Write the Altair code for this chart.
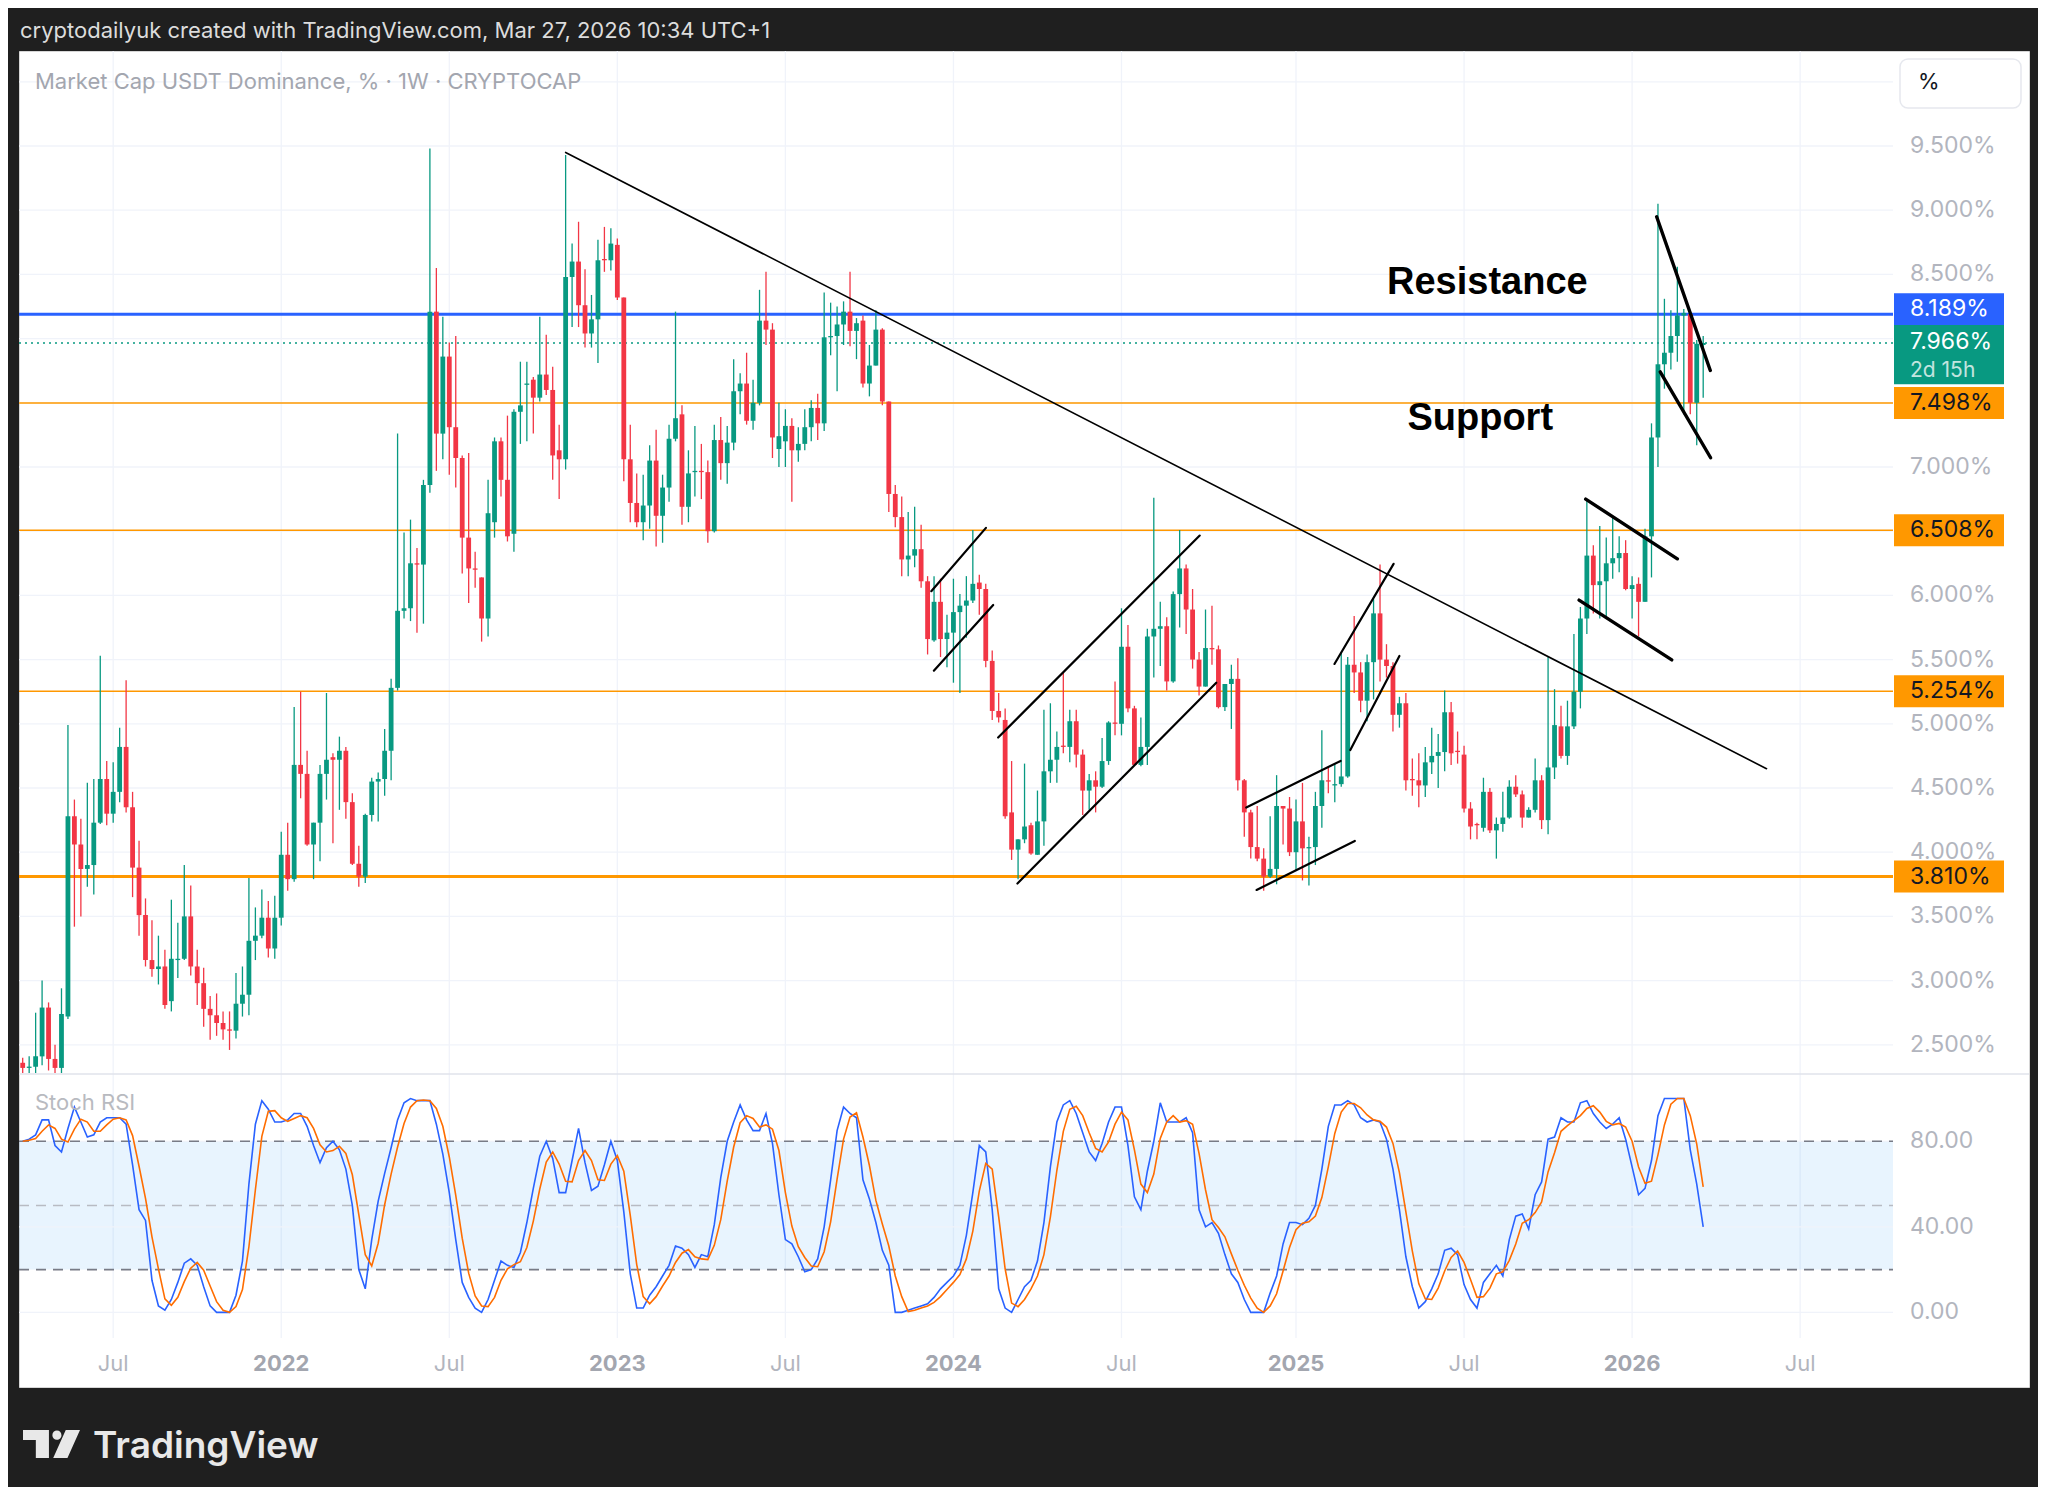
import altair as alt
import pandas as pd

# ---------------------------------------------------------------- data
FIRST_WEEK = "2021-03-29"   # weekly candles, Monday open

open_ = [
    2.36, 2.32, 2.33, 2.41, 2.79, 2.39, 2.32, 2.72, 4.28, 4.06,
    3.87, 3.90, 4.23, 4.57, 4.30, 4.47, 4.82, 4.35, 3.88, 3.51,
    3.16, 3.09, 3.11, 2.84, 3.16, 3.17, 3.50, 3.11, 2.98, 2.78,
    2.73, 2.67, 2.62, 2.61, 2.82, 2.89, 3.31, 3.35, 3.49, 3.25,
    3.49, 3.98, 3.79, 4.68, 4.61, 4.06, 4.23, 4.61, 4.74, 4.72,
    4.79, 4.39, 3.91, 3.81, 4.29, 4.55, 4.57, 4.79, 5.28, 5.88,
    5.90, 6.25, 6.24, 6.86, 8.21, 7.26, 7.86, 7.31, 7.07, 6.45,
    6.21, 6.14, 5.82, 6.57, 7.20, 6.90, 6.48, 7.43, 7.64, 7.68,
    7.54, 7.72, 7.60, 7.13, 7.06, 8.48, 8.60, 8.26, 8.04, 8.15,
    8.62, 8.61, 8.73, 8.32, 7.06, 6.72, 6.57, 6.70, 7.05, 6.62,
    6.84, 7.22, 7.41, 6.69, 6.96, 6.97, 6.96, 6.50, 7.21, 7.03,
    7.19, 7.59, 7.65, 7.36, 7.50, 8.14, 8.07, 7.14, 7.20, 7.32,
    7.13, 7.18, 7.31, 7.46, 7.34, 8.01, 8.02, 8.11, 8.21, 8.06,
    8.14, 7.65, 7.79, 8.07, 7.51, 6.79, 6.61, 6.28, 6.31, 6.36,
    6.11, 5.65, 5.95, 5.66, 5.71, 5.87, 5.92, 5.96, 6.10, 6.05,
    5.49, 5.10, 5.03, 4.31, 4.02, 4.10, 4.21, 3.98, 4.24, 4.63,
    4.72, 4.83, 4.82, 5.02, 4.76, 4.48, 4.56, 4.51, 4.71, 5.01,
    5.00, 5.60, 5.12, 4.68, 4.82, 5.68, 5.74, 5.76, 5.33, 6.01,
    6.21, 5.89, 5.50, 5.29, 5.59, 5.58, 5.13, 5.31, 5.35, 4.56,
    4.31, 4.04, 3.95, 3.81, 3.87, 4.36, 4.34, 4.00, 4.24, 4.03,
    4.04, 4.36, 4.56, 4.52, 4.53, 4.59, 5.46, 5.40, 5.18, 5.48,
    5.86, 5.50, 5.45, 5.07, 5.16, 4.57, 4.56, 4.52, 4.70, 4.75,
    4.78, 5.09, 4.79, 4.76, 4.34, 4.22, 4.19, 4.47, 4.17, 4.22,
    4.27, 4.51, 4.45, 4.27, 4.33, 4.56, 4.25, 4.66, 4.98, 4.75,
    4.98, 5.25, 5.82, 6.31, 6.08, 6.11, 6.25, 6.29, 6.33, 6.05,
    6.09, 5.95, 6.46, 7.23, 7.80, 7.89, 8.02, 8.18, 8.19, 7.50,
    7.95,
]
high = [
    2.40, 2.41, 2.75, 3.00, 2.83, 2.50, 2.94, 4.99, 4.41, 4.26,
    4.54, 4.57, 5.53, 4.71, 4.70, 4.97, 5.34, 4.47, 4.09, 3.64,
    3.47, 3.35, 3.24, 3.63, 3.45, 3.90, 3.74, 3.24, 3.10, 2.88,
    2.90, 2.76, 2.76, 3.06, 3.11, 3.80, 3.57, 3.71, 3.62, 3.66,
    4.16, 4.23, 5.13, 5.25, 4.79, 4.23, 4.68, 5.24, 4.77, 4.90,
    4.82, 4.46, 4.05, 4.30, 4.58, 4.62, 4.96, 5.35, 7.26, 6.49,
    6.59, 6.37, 6.90, 9.48, 8.55, 8.17, 7.97, 8.02, 7.09, 7.11,
    6.34, 6.14, 6.90, 7.23, 7.23, 7.40, 7.45, 7.82, 7.82, 7.70,
    8.17, 8.03, 7.78, 7.33, 9.43, 8.74, 8.91, 8.54, 8.34, 8.77,
    8.87, 8.86, 8.78, 8.32, 7.33, 6.95, 6.94, 7.17, 7.29, 6.94,
    7.33, 8.21, 7.48, 7.13, 7.32, 7.18, 7.05, 7.33, 7.39, 7.32,
    7.84, 7.73, 7.89, 7.68, 8.38, 8.52, 8.12, 7.50, 7.45, 7.38,
    7.31, 7.45, 7.52, 7.57, 8.36, 8.28, 8.25, 8.29, 8.52, 8.16,
    8.18, 7.95, 8.22, 8.08, 7.51, 6.86, 6.77, 6.65, 6.69, 6.55,
    6.15, 6.15, 6.13, 5.85, 6.13, 6.01, 6.15, 6.51, 6.16, 6.09,
    5.57, 5.24, 5.12, 4.71, 4.10, 4.69, 4.23, 4.48, 5.11, 5.16,
    4.94, 5.40, 5.11, 5.11, 4.80, 4.61, 4.63, 4.89, 5.02, 5.33,
    5.90, 5.77, 5.14, 5.05, 5.74, 6.76, 5.95, 5.83, 6.03, 6.51,
    6.24, 6.05, 5.56, 5.89, 5.92, 5.61, 5.31, 5.46, 5.51, 4.57,
    4.33, 4.36, 4.03, 4.28, 4.60, 4.36, 4.43, 4.41, 4.54, 4.12,
    4.47, 4.95, 4.67, 4.69, 5.56, 5.52, 5.84, 5.48, 5.54, 5.97,
    6.24, 5.62, 5.48, 5.21, 5.24, 4.73, 4.77, 4.82, 4.97, 4.92,
    5.26, 5.17, 4.94, 4.83, 4.39, 4.23, 4.58, 4.50, 4.27, 4.47,
    4.56, 4.60, 4.48, 4.35, 4.73, 4.60, 5.52, 5.27, 5.14, 5.18,
    5.70, 5.91, 6.75, 6.39, 6.54, 6.45, 6.61, 6.46, 6.43, 6.15,
    6.14, 6.52, 7.34, 9.05, 8.31, 8.22, 8.56, 8.23, 8.19, 7.99,
    8.02,
]
low = [
    2.20, 2.20, 2.20, 2.34, 2.30, 2.20, 2.20, 2.70, 3.42, 3.50,
    3.73, 3.67, 4.22, 4.21, 4.23, 4.39, 4.31, 3.65, 3.35, 3.11,
    3.03, 2.97, 2.78, 2.76, 3.02, 3.16, 3.04, 2.81, 2.64, 2.54,
    2.57, 2.54, 2.46, 2.55, 2.72, 2.73, 3.16, 3.33, 3.18, 3.17,
    3.43, 3.70, 3.77, 4.42, 4.05, 3.79, 3.93, 4.41, 4.07, 4.33,
    4.26, 3.90, 3.73, 3.76, 4.24, 4.24, 4.44, 4.56, 5.26, 5.82,
    5.80, 5.71, 5.78, 6.80, 6.97, 7.06, 6.94, 6.84, 6.17, 5.94,
    6.06, 5.64, 5.68, 6.45, 6.77, 6.42, 6.34, 7.18, 7.20, 7.26,
    7.51, 7.56, 6.90, 6.75, 6.98, 8.09, 8.09, 7.93, 7.93, 7.81,
    8.52, 8.53, 8.30, 6.89, 6.57, 6.53, 6.43, 6.52, 6.38, 6.41,
    6.73, 7.20, 6.55, 6.57, 6.77, 6.75, 6.41, 6.49, 6.90, 6.87,
    7.13, 7.41, 7.33, 7.29, 7.48, 7.95, 7.07, 7.00, 7.00, 6.73,
    7.04, 7.13, 7.20, 7.21, 7.28, 7.87, 7.59, 7.95, 7.94, 7.84,
    7.62, 7.55, 7.79, 7.48, 6.65, 6.53, 6.15, 6.15, 6.22, 6.06,
    5.54, 5.64, 5.52, 5.44, 5.32, 5.24, 5.67, 5.94, 5.85, 5.44,
    5.03, 5.01, 4.26, 3.94, 3.79, 4.07, 3.98, 3.98, 4.05, 4.54,
    4.54, 4.77, 4.70, 4.66, 4.29, 4.33, 4.31, 4.50, 4.68, 4.91,
    4.91, 5.09, 4.68, 4.67, 4.68, 5.36, 5.45, 5.26, 5.32, 5.75,
    5.70, 5.43, 5.22, 5.29, 5.46, 5.12, 5.10, 4.96, 4.48, 4.12,
    3.95, 3.93, 3.70, 3.80, 3.75, 4.06, 3.97, 3.86, 3.78, 3.74,
    3.90, 4.19, 4.46, 4.39, 4.51, 4.58, 5.24, 5.09, 5.02, 5.19,
    5.33, 5.36, 4.94, 4.97, 4.48, 4.44, 4.35, 4.43, 4.61, 4.50,
    4.63, 4.68, 4.69, 4.31, 4.10, 4.10, 4.16, 4.15, 3.95, 4.16,
    4.26, 4.43, 4.19, 4.27, 4.31, 4.18, 4.14, 4.57, 4.73, 4.68,
    4.96, 5.12, 5.70, 5.86, 5.82, 5.82, 6.13, 6.18, 6.04, 5.82,
    5.68, 5.95, 6.14, 7.00, 7.61, 7.76, 7.82, 7.41, 7.41, 7.17,
    7.54,
]
close = [
    2.32, 2.33, 2.41, 2.79, 2.39, 2.32, 2.74, 4.28, 4.06, 3.87,
    3.90, 4.23, 4.57, 4.30, 4.47, 4.82, 4.35, 3.88, 3.51, 3.16,
    3.09, 3.11, 2.81, 3.17, 3.17, 3.50, 3.11, 2.98, 2.78, 2.73,
    2.67, 2.62, 2.61, 2.82, 2.89, 3.31, 3.35, 3.49, 3.25, 3.49,
    3.98, 3.79, 4.68, 4.61, 4.06, 4.23, 4.61, 4.72, 4.72, 4.79,
    4.39, 3.91, 3.81, 4.29, 4.55, 4.57, 4.79, 5.28, 5.88, 5.90,
    6.25, 6.24, 6.86, 8.21, 7.26, 7.86, 7.31, 7.07, 6.45, 6.21,
    6.20, 5.82, 6.64, 7.20, 6.90, 6.46, 7.43, 7.48, 7.65, 7.54,
    7.72, 7.60, 7.09, 7.06, 8.48, 8.60, 8.26, 8.04, 8.15, 8.61,
    8.61, 8.74, 8.32, 7.06, 6.72, 6.57, 6.70, 7.05, 6.62, 6.84,
    7.22, 7.38, 6.69, 6.95, 6.97, 6.96, 6.50, 7.21, 7.03, 7.19,
    7.59, 7.65, 7.36, 7.50, 8.14, 8.07, 7.23, 7.24, 7.32, 7.13,
    7.18, 7.31, 7.46, 7.34, 8.01, 8.02, 8.11, 8.21, 8.06, 8.12,
    7.65, 7.79, 8.07, 7.51, 6.79, 6.61, 6.28, 6.31, 6.36, 6.11,
    5.66, 5.95, 5.66, 5.71, 5.87, 5.92, 5.96, 6.09, 6.05, 5.49,
    5.10, 5.05, 4.28, 4.02, 4.10, 4.20, 3.99, 4.24, 4.63, 4.72,
    4.82, 4.82, 5.02, 4.76, 4.48, 4.56, 4.51, 4.71, 5.01, 5.00,
    5.60, 5.12, 4.68, 4.82, 5.68, 5.74, 5.76, 5.33, 6.01, 6.21,
    5.89, 5.50, 5.29, 5.59, 5.58, 5.13, 5.31, 5.35, 4.56, 4.31,
    4.04, 3.95, 3.81, 3.87, 4.36, 4.34, 4.00, 4.24, 4.03, 4.04,
    4.36, 4.56, 4.55, 4.53, 4.59, 5.46, 5.40, 5.18, 5.48, 5.86,
    5.50, 5.45, 5.07, 5.16, 4.56, 4.56, 4.52, 4.70, 4.75, 4.78,
    5.09, 4.77, 4.78, 4.34, 4.20, 4.21, 4.47, 4.17, 4.22, 4.27,
    4.51, 4.45, 4.27, 4.33, 4.56, 4.25, 4.66, 4.99, 4.75, 4.98,
    5.25, 5.82, 6.31, 6.08, 6.11, 6.25, 6.29, 6.33, 6.05, 6.08,
    5.95, 6.46, 7.23, 7.80, 7.89, 8.02, 8.18, 8.20, 7.50, 7.96,
    7.966,
]
stoch_k = [
    80, 81, 83, 90, 90, 78, 75, 86, 96, 89,
    82, 83, 89, 91, 91, 91, 88, 69, 48, 43,
    15, 3, 1, 6, 14, 23, 25, 22, 12, 3,
    0, 0, 0, 8, 24, 60, 88, 99, 95, 89,
    89, 90, 93, 93, 87, 78, 70, 77, 80, 76,
    67, 50, 20, 11, 34, 52, 65, 77, 90, 98,
    100, 99, 99, 99, 88, 74, 56, 34, 14, 7,
    2, 0, 6, 15, 24, 22, 21, 28, 42, 58,
    73, 80, 72, 56, 56, 71, 86, 70, 57, 59,
    69, 80, 71, 47, 18, 2, 2, 8, 12, 17,
    22, 31, 30, 27, 21, 27, 26, 41, 63, 80,
    89, 97, 90, 85, 85, 93, 79, 55, 34, 32,
    26, 19, 20, 25, 40, 62, 85, 96, 93, 91,
    62, 53, 42, 29, 22, 0, 0, 1, 2, 3,
    4, 7, 11, 14, 17, 22, 36, 56, 78, 75,
    48, 11, 2, 0, 6, 12, 15, 24, 42, 68,
    89, 97, 99, 93, 84, 75, 71, 79, 89, 96,
    96, 78, 54, 48, 66, 80, 98, 89, 89, 89,
    91, 84, 48, 40, 42, 37, 27, 18, 14, 6,
    0, 0, 0, 9, 17, 32, 42, 42, 41, 44,
    50, 67, 87, 97, 97, 99, 97, 91, 89, 90,
    89, 81, 67, 48, 26, 12, 2, 5, 11, 18,
    29, 30, 27, 13, 6, 2, 14, 18, 22, 17,
    34, 45, 46, 39, 55, 61, 81, 82, 91, 89,
    89, 98, 99, 93, 89, 86, 88, 91, 81, 68,
    55, 58, 71, 92, 100, 100, 100, 100, 76, 60,
    40,
]

price_ticks = [2.5, 3.0, 3.5, 4.0, 4.5, 5.0, 5.5, 6.0, 6.5, 7.0, 7.5, 8.0, 8.5, 9.0, 9.5]
price_grid = price_ticks + [10.0]
stoch_ticks = [0, 40, 80]
stoch_band = [20, 80]
stoch_mid = [50]
time_ticks = ["2021-07-05", "2022-01-03", "2022-07-04", "2023-01-02", "2023-07-03", "2024-01-01",
              "2024-07-01", "2025-01-06", "2025-07-07", "2026-01-05", "2026-07-06"]
time_labels = ["Jul", "2022", "Jul", "2023", "Jul", "2024", "Jul", "2025", "Jul", "2026", "Jul"]

support_levels = [7.498, 6.508, 5.254]
base_level = [3.810]
resistance_level = [8.189]
last_price = [7.966]
countdown = "2d 15h"

# drawings: (weeks after first candle, price)
trend_w1, trend_p1, trend_w2, trend_p2 = [84.0], [9.45], [269.8], [4.65]
chan_w1 = [140.57, 140.97, 150.92, 153.9, 189.3, 190.9, 202.95, 205.4]
chan_p1 = [6.033, 5.414, 4.893, 3.756, 4.348, 3.706, 5.466, 4.796]
chan_w2 = [149.03, 150.15, 182.1, 184.66, 203.9, 206.1, 212.1, 213.0]
chan_p2 = [6.526, 5.925, 6.466, 5.32, 4.711, 4.088, 6.246, 5.528]
flag_w1 = [241.82, 240.79, 252.8, 253.35]
flag_p1 = [6.75, 5.963, 8.949, 7.741]
flag_w2 = [256.0, 255.14, 261.1, 261.15]
flag_p2 = [6.285, 5.498, 7.752, 7.072]
note_text = ["Resistance", "Support"]
note_w = [226.6, 225.5]
note_p = [8.433, 7.374]

header = "cryptodailyuk created with TradingView.com, Mar 27, 2026 10:34 UTC+1"
symbol_title = "Market Cap USDT Dominance, % · 1W · CRYPTOCAP"

# ---------------------------------------------------------------- style / layout
FONT = "Inter"
GREEN, RED, BLUE, ORANGE, DLINE = "#089981", "#f23645", "#2962ff", "#ff9800", "#ff6d00"
AXIS_TXT, GRID, INK = "#b2b5be", "#f0f3fa", "#131722"
PLOT_W, PLOT_H = 2010, 1336
PANE_R = 1874
PRICE_BOTTOM, STOCH_TOP, STOCH_BOTTOM = 1022, 1024, 1287
LABEL_X, TAG_CX = 1891, 1930
LABEL_SIZE = 23
TAG1 = "M-1,-0.291L1,-0.291L1,0.291L-1,0.291Z"
TAG2 = "M-1,-0.327L1,-0.327L1,0.75L-1,0.75Z"
LOGO = ("M-1,-0.49H-0.09V0.49H-0.55V-0.14H-1Z "
        "M0.03,-0.31A0.16,0.16 0 1,0 0.35,-0.31A0.16,0.16 0 1,0 0.03,-0.31Z "
        "M0.5,-0.49H1L0.56,0.49H0.06Z")

X_SCALE = alt.Scale(domain=[alt.DateTime(year=2021, month=3, date=29),
                            alt.DateTime(year=2026, month=3, date=23)],
                    range=[-1.3, 1689.2], nice=False)
P_SCALE = alt.Scale(domain=[2.2804, 10.2399], range=[PRICE_BOTTOM, 0], nice=False, zero=False, clamp=True)
S_SCALE = alt.Scale(domain=[-12, 111], range=[STOCH_BOTTOM, STOCH_TOP], nice=False, zero=False)


def week(w):
    return (pd.Timestamp(FIRST_WEEK) + pd.Timedelta(days=7 * w)).round("min")


def XT(f):
    return alt.X(f, type="temporal", scale=X_SCALE, axis=None)


def PY(f):
    return alt.Y(f, type="quantitative", scale=P_SCALE, axis=None)


def SY(f):
    return alt.Y(f, type="quantitative", scale=S_SCALE, axis=None)


dates = pd.date_range(FIRST_WEEK, periods=len(close), freq="7D")
candles = pd.DataFrame({"date": dates, "open": open_, "high": high, "low": low, "close": close})
stoch = pd.DataFrame({"date": dates, "k": stoch_k})
ONE = pd.DataFrame({"n": [0]})


def segs(w1, p1, w2, p2):
    return pd.DataFrame({"t1": [week(w) for w in w1], "p1": p1, "t2": [week(w) for w in w2], "p2": p2})


def hlines(vals, scale_y, **kw):
    return alt.Chart(pd.DataFrame({"v": vals})).mark_rule(**kw).encode(
        y=scale_y("v"), x=alt.value(0), x2=alt.value(PANE_R))


layers = []

# grid
layers.append(hlines(price_grid, PY, color=GRID, strokeWidth=1.3))
layers.append(alt.Chart(pd.DataFrame({"d": pd.to_datetime(time_ticks)})).mark_rule(
    color=GRID, strokeWidth=1.3).encode(x=XT("d"), y=alt.value(0), y2=alt.value(STOCH_BOTTOM)))

# stoch rsi pane
layers.append(alt.Chart(pd.DataFrame({"lo": [stoch_band[0]], "hi": [stoch_band[1]]})).mark_rect(
    color="#2196f3", opacity=0.1).encode(y=SY("lo"), y2="hi:Q", x=alt.value(0), x2=alt.value(PANE_R)))
layers.append(hlines(stoch_ticks, SY, color=GRID, strokeWidth=1.3))
layers.append(hlines(stoch_band, SY, color="#787b86", strokeWidth=1.6, strokeDash=[10, 7]))
layers.append(hlines(stoch_mid, SY, color="#b8bbc3", strokeWidth=1.6, strokeDash=[10, 7]))
layers.append(alt.Chart(stoch).mark_line(color=BLUE, strokeWidth=1.6).encode(x=XT("date"), y=SY("k")))
layers.append(alt.Chart(stoch).transform_window(
    d="mean(k)", frame=[-2, 0], sort=[alt.SortField("date")]).mark_line(
    color=DLINE, strokeWidth=1.6).encode(x=XT("date"), y=SY("d")))

# horizontal levels
layers.append(hlines(support_levels, PY, color=ORANGE, strokeWidth=1.6))
layers.append(hlines(base_level, PY, color=ORANGE, strokeWidth=3))
layers.append(hlines(resistance_level, PY, color=BLUE, strokeWidth=3))
layers.append(hlines(last_price, PY, color=GREEN, strokeWidth=1.5, strokeDash=[2, 4]))

# candles
up = alt.condition("datum.close >= datum.open", alt.value(GREEN), alt.value(RED))
cbase = alt.Chart(candles).encode(x=XT("date"))
layers.append(cbase.mark_rule(strokeWidth=1.3, clip=True).encode(y=PY("low"), y2="high:Q", color=up))
layers.append(cbase.mark_bar(width=4.8, clip=True).encode(y=PY("open"), y2="close:Q", color=up))

# drawings
for df, w in [(segs(trend_w1, trend_p1, trend_w2, trend_p2), 1.6),
              (segs(chan_w1, chan_p1, chan_w2, chan_p2), 2.2),
              (segs(flag_w1, flag_p1, flag_w2, flag_p2), 3.4)]:
    layers.append(alt.Chart(df).mark_rule(color="#000000", strokeWidth=w, strokeCap="round").encode(
        x=XT("t1"), x2="t2:T", y=PY("p1"), y2="p2:Q"))

notes = pd.DataFrame({"t": [week(w) for w in note_w], "p": note_p, "txt": note_text})
layers.append(alt.Chart(notes).mark_text(font="Liberation Sans", fontWeight="bold", fontSize=38,
                                         color="#000000", baseline="middle").encode(
    x=XT("t"), y=PY("p"), text="txt:N"))

# pane separator
layers.append(alt.Chart(ONE).mark_rule(color="#e0e3eb", strokeWidth=1.5).encode(
    x=alt.value(0), x2=alt.value(PLOT_W), y=alt.value(1023)))

# price scale labels
layers.append(alt.Chart(pd.DataFrame({"v": price_ticks})).transform_calculate(
    lab="format(datum.v, '.3f') + '%'").mark_text(
    align="left", baseline="middle", font=FONT, fontSize=LABEL_SIZE, color=AXIS_TXT).encode(
    y=PY("v"), x=alt.value(LABEL_X), text="lab:N"))
layers.append(alt.Chart(pd.DataFrame({"v": stoch_ticks})).transform_calculate(
    lab="format(datum.v, '.2f')").mark_text(
    align="left", baseline="middle", font=FONT, fontSize=LABEL_SIZE, color=AXIS_TXT).encode(
    y=SY("v"), x=alt.value(LABEL_X), text="lab:N"))


# price tags
def tag(vals, fill, txt_color, shape=TAG1, dy=0, text_dy=None):
    d = pd.DataFrame({"v": vals})
    box = alt.Chart(d).mark_point(shape=shape, size=12100, filled=True, opacity=1, color=fill,
                                  strokeWidth=0, yOffset=dy).encode(y=PY("v"), x=alt.value(TAG_CX))
    txt = alt.Chart(d).transform_calculate(lab="format(datum.v, '.3f') + '%'").mark_text(
        align="left", baseline="middle", font=FONT, fontSize=LABEL_SIZE, color=txt_color,
        yOffset=dy if text_dy is None else text_dy).encode(
        y=PY("v"), x=alt.value(LABEL_X), text="lab:N")
    return [box, txt]


layers += tag(support_levels + base_level, ORANGE, INK)
layers += tag(resistance_level, BLUE, "#ffffff", dy=-5)
layers += tag(last_price, GREEN, "#ffffff", shape=TAG2, text_dy=-1)
layers.append(alt.Chart(pd.DataFrame({"v": last_price, "c": [countdown]})).mark_text(
    align="left", baseline="middle", font=FONT, fontSize=21, color="#ffffff", opacity=0.75,
    yOffset=28).encode(y=PY("v"), x=alt.value(LABEL_X), text="c:N"))

# time axis labels
tdf = pd.DataFrame({"d": pd.to_datetime(time_ticks), "lab": time_labels})
layers.append(alt.Chart(tdf).transform_filter("datum.lab == 'Jul'").mark_text(
    font=FONT, fontSize=22, color=AXIS_TXT, baseline="middle").encode(
    x=XT("d"), y=alt.value(1313), text="lab:N"))
layers.append(alt.Chart(tdf).transform_filter("datum.lab != 'Jul'").mark_text(
    font=FONT, fontSize=22, fontWeight="bold", color="#a3a6af", baseline="middle").encode(
    x=XT("d"), y=alt.value(1313), text="lab:N"))

# texts and decorations
layers.append(alt.Chart(ONE).mark_text(align="left", baseline="middle", font=FONT, fontSize=22,
                                       color="#a3a6af").encode(
    x=alt.value(16), y=alt.value(31), text=alt.value(symbol_title)))
layers.append(alt.Chart(ONE).mark_text(align="left", baseline="middle", font=FONT, fontSize=22,
                                       color="#b8bac0").encode(
    x=alt.value(16), y=alt.value(1052), text=alt.value("Stoch RSI")))
layers.append(alt.Chart(ONE).mark_rect(fill="#ffffff", stroke="#e6e8ee", strokeWidth=1.5,
                                       cornerRadius=8).encode(
    x=alt.value(1881), x2=alt.value(2002), y=alt.value(8), y2=alt.value(57)))
layers.append(alt.Chart(ONE).mark_text(align="left", baseline="middle", font=FONT, fontSize=22,
                                       color=INK).encode(
    x=alt.value(1899), y=alt.value(31), text=alt.value("%")))
layers.append(alt.Chart(ONE).mark_text(align="left", baseline="middle", font=FONT, fontSize=22,
                                       color="#dcdcdc").encode(
    x=alt.value(1), y=alt.value(-20), text=alt.value(header)))
layers.append(alt.Chart(ONE).mark_point(shape=LOGO, size=3249, filled=True, opacity=1,
                                        color="#e8e8e8", strokeWidth=0).encode(
    x=alt.value(32.5), y=alt.value(1393)))
layers.append(alt.Chart(ONE).mark_text(align="left", baseline="alphabetic", font=FONT, fontSize=37,
                                       fontWeight=600, color="#e8e8e8").encode(
    x=alt.value(74), y=alt.value(1407), text=alt.value("TradingView")))

chart = alt.layer(*layers).resolve_scale(y="independent").properties(
    width=PLOT_W, height=PLOT_H,
    padding={"left": 11, "top": 43, "right": 9, "bottom": 100},
    autosize=alt.AutoSizeParams(type="none"),
).configure(background="#1f1f1f", font=FONT).configure_view(fill="#ffffff", stroke="#d6d6d6", strokeWidth=1)

chart.save("out.html", embed_options={"renderer": "svg", "actions": False})
